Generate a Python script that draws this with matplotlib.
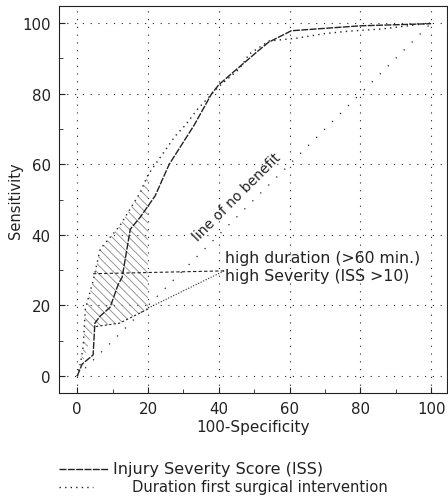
import matplotlib

matplotlib.use("Agg")

import matplotlib.pyplot as plt
from matplotlib.lines import Line2D

plt.rcParams["font.family"] = ["DejaVu Sans"]
plt.rcParams["hatch.linewidth"] = 0.6

# ROC curves
iss_x = [0, 1.4, 4.5, 5, 6.5, 9.3, 11.6, 12.7, 15, 17.8, 22, 26, 33, 38, 40, 44, 51, 54, 60.5, 80, 100]
iss_y = [0, 3.4, 6, 15, 17, 19.5, 26, 28, 41.6, 45, 51, 60, 71, 80, 82.5, 86, 92, 94.5, 97.8, 99.2, 99.8]

dur_x = [0, 1, 1.7, 2.3, 4.5, 6.5, 12, 17.8, 20, 27.7, 30.5, 34, 40, 45.8, 48.6, 54.2, 62, 70, 77, 86, 100]
dur_y = [0, 4, 8.5, 19, 27, 36, 42.5, 52, 57, 68, 71, 75.6, 82, 87, 91.2, 94.9, 95.7, 97, 97.7, 98.3, 100]

# lower edge of the hatched band (x <= 20)
band_lo_x = [20, 12, 5, 1.4, 1]
band_lo_y = [19, 15, 14, 3.4, 4]

ticks = [0, 20, 40, 60, 80, 100]
minor_ticks = [10, 30, 50, 70, 90]

label_duration = "high duration (>60 min.)"
label_severity = "high Severity (ISS >10)"
pointer_anchor = (41.5, 29.8)
pointer_duration = (4.5, 29)
pointer_severity = (19.5, 19)

ink = "#222222"
W, H = 448, 502

fig = plt.figure(figsize=(W / 100, H / 100), dpi=100)
ax = fig.add_axes([0.132, 0.215, 0.866, 0.771])

# grid
for t in ticks:
    ax.axhline(t, color=ink, lw=0.8, ls=(0, (1, 6)), zorder=1)
    ax.axvline(t, color=ink, lw=0.8, ls=(0, (1, 6)), zorder=1)

# hatched band between the duration curve and the lower edge
n_up = dur_x.index(20) + 1
poly_x = dur_x[1:n_up] + band_lo_x
poly_y = dur_y[1:n_up] + band_lo_y
ax.fill(poly_x, poly_y, facecolor="none", edgecolor="#8a8a8a", hatch="\\\\\\\\", lw=0, zorder=2)
ax.plot(band_lo_x[:3], band_lo_y[:3], color=ink, lw=0.8, ls=(0, (2, 2)), zorder=3)

# line of no benefit
ax.plot([0, 100], [0, 100], color=ink, lw=0.9, ls=(0, (1, 8)), zorder=2)
ax.text(45, 51, "line of no benefit", rotation=45, ha="center", va="center",
        fontsize=10, color=ink, rotation_mode="anchor")

ax.plot(iss_x, iss_y, color=ink, lw=1.0, ls=(0, (5, 1)), zorder=4)
ax.plot(dur_x, dur_y, color=ink, lw=1.0, ls=(0, (1, 3)), zorder=4)

# pointers
ax.plot([pointer_anchor[0], pointer_duration[0]], [pointer_anchor[1], pointer_duration[1]],
        color=ink, lw=0.8, ls=(0, (3, 2)), zorder=3)
ax.plot([pointer_anchor[0], pointer_severity[0]], [pointer_anchor[1], pointer_severity[1]],
        color=ink, lw=0.8, ls=(0, (1, 1.5)), zorder=3)
ax.text(41.8, 33.5, label_duration, ha="left", va="center", fontsize=11.3, color=ink)
ax.text(41.8, 28.6, label_severity, ha="left", va="center", fontsize=11.3, color=ink)

ax.set_xlim(-5.1, 104.5)
ax.set_ylim(-4.8, 104.8)
ax.set_xticks(ticks)
ax.set_yticks(ticks)
ax.set_xticks(minor_ticks, minor=True)
ax.set_yticks(minor_ticks, minor=True)
ax.tick_params(which="both", direction="in", color=ink, labelcolor=ink, labelsize=10.8)
ax.tick_params(which="major", length=4, pad=6)
ax.tick_params(which="minor", length=3)
for side in ax.spines.values():
    side.set_color(ink)
    side.set_linewidth(0.8)
    side.set_linestyle((0, (3, 1)))

ax.set_xlabel("100-Specificity", fontsize=11, color=ink, labelpad=2)
ax.set_ylabel("Sensitivity", fontsize=10.5, color=ink)
ax.yaxis.set_label_coords(-0.092, 0.5)

# legend drawn by hand: the two labels start at different x in the original
legend_rows = [
    ("Injury Severity Score (ISS)", (0, (5, 1)), 59, 108, 113, 470, 11.5),
    ("Duration first surgical intervention", (0, (1, 3)), 59, 93, 132, 488, 10.6),
]
for text, style, x0, x1, xt, yp, size in legend_rows:
    fig.add_artist(Line2D([x0 / W, x1 / W], [1 - yp / H, 1 - yp / H],
                          transform=fig.transFigure, color=ink, lw=1.0, ls=style))
    fig.text(xt / W, 1 - yp / H, text, ha="left", va="center", fontsize=size, color=ink)

fig.savefig("out.png", dpi=100)
plt.close(fig)
